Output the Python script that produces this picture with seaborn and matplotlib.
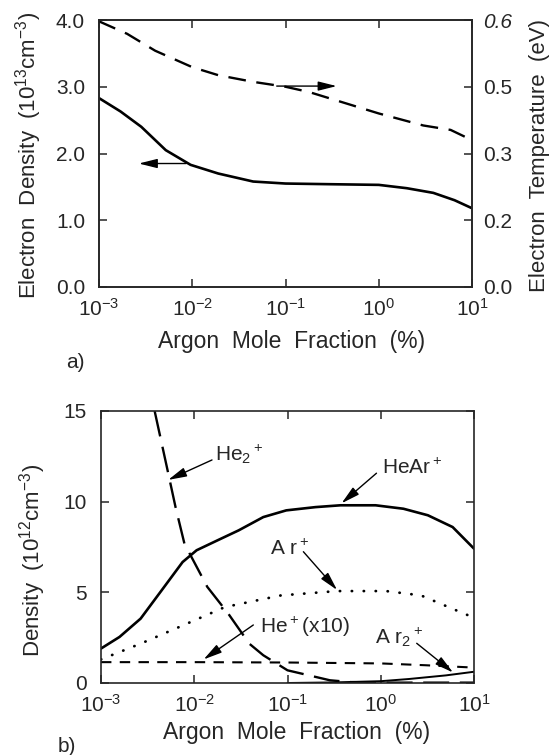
import numpy as np
import pandas as pd
import matplotlib
matplotlib.use("Agg")
import matplotlib.pyplot as plt
import seaborn as sns

# ---- data ----
# a) electron density (1e13 cm-3) and electron temperature (eV)
x_ne = [1e-3, 1.7e-3, 2.84e-3, 5.2e-3, 9.6e-3, 1.9e-2, 4.5e-2, 0.1, 0.3, 1.0, 2.0, 3.85, 6.5, 10]
ne = [2.83, 2.63, 2.40, 2.05, 1.83, 1.70, 1.58, 1.55, 1.54, 1.53, 1.48, 1.41, 1.30, 1.18]

x_te = [1e-3, 2e-3, 4e-3, 1e-2, 1.9e-2, 4.5e-2, 0.1, 0.18, 0.44, 1.0, 3.0, 5.9, 10]
te = [0.597, 0.569, 0.531, 0.494, 0.476, 0.461, 0.45, 0.438, 0.413, 0.39, 0.363, 0.353, 0.33]

# b) ion densities (1e12 cm-3)
x_hear = [1e-3, 1.58e-3, 2.66e-3, 4.47e-3, 7.5e-3, 1.06e-2, 1.78e-2, 3.0e-2, 5.5e-2,
          9.7e-2, 0.2, 0.37, 0.88, 1.75, 3.2, 5.9, 10]
hear = [1.9, 2.54, 3.55, 5.11, 6.67, 7.32, 7.87, 8.42, 9.15, 9.52, 9.70, 9.80, 9.80,
        9.61, 9.25, 8.60, 7.41]

x_arp = [1e-3, 2.66e-3, 6.3e-3, 2.14e-2, 8.5e-2, 0.34, 1.14, 2.7, 6.5, 10]
arp = [1.3, 2.17, 3.0, 4.19, 4.83, 5.07, 5.07, 4.83, 4.0, 3.6]

x_he2 = [3.76e-3, 5.09e-3, 6.3e-3, 7.85e-3, 1.38e-2, 2.32e-2, 3.89e-2, 5.5e-2, 0.1,
         0.285, 0.48, 1.0, 3.0, 10]
he2 = [15.0, 11.9, 9.7, 7.68, 5.3, 3.82, 2.17, 1.53, 0.7, 0.15, 0.05, 0.02, 0.02, 0.02]

x_hep = [1e-3, 1e-2, 0.1, 1.0, 3.0, 10]
hep = [1.15, 1.15, 1.13, 1.08, 0.98, 0.85]

x_ar2 = [0.1, 0.3, 1.0, 2.0, 5.0, 10]
ar2 = [0.0, 0.03, 0.1, 0.22, 0.42, 0.62]

decades = [1e-3, 1e-2, 1e-1, 1e0, 1e1]
decade_labels = ["10$^{-3}$", "10$^{-2}$", "10$^{-1}$", "10$^{0}$", "10$^{1}$"]

sns.set_style("ticks")
plt.rcParams["font.family"] = ["Liberation Sans", "DejaVu Sans"]
plt.rcParams["mathtext.default"] = "regular"
plt.rcParams["axes.linewidth"] = 1.2

W, H = 551, 755
fig = plt.figure(figsize=(W / 100, H / 100), dpi=100)


def px_axes(left, top, right, bottom):
    return fig.add_axes([left / W, 1 - bottom / H, (right - left) / W, (bottom - top) / H])


def style_x(ax):
    ax.set_xscale("log")
    ax.set_xlim(1e-3, 10)
    ax.set_xticks(decades, decade_labels)
    ax.xaxis.set_minor_locator(matplotlib.ticker.NullLocator())
    ax.tick_params(axis="x", which="major", direction="in", length=6, width=1.1,
                   top=True, bottom=True, labelsize=15, pad=8)


arrow = dict(arrowstyle="-|>,head_length=0.8,head_width=0.2", color="black", lw=1.0,
             mutation_scale=14, shrinkA=0, shrinkB=0)

# ---------------- panel a ----------------
ax1 = px_axes(99, 20, 472, 287)
sns.lineplot(x=x_ne, y=ne, ax=ax1, color="black", lw=1.9)
ax2 = ax1.twinx()
sns.lineplot(x=x_te, y=te, ax=ax2, color="black", lw=1.7, dashes=(7.5, 4.5))
style_x(ax1)
ax1.set_ylim(0, 4.0)
ax1.set_yticks([0, 1, 2, 3, 4], ["0.0", "1.0", "2.0", "3.0", "4.0"])
ax1.tick_params(axis="y", direction="in", length=6, width=1.1, labelsize=15, pad=10,
                right=False)
ax2.set_ylim(0, 0.6)
ax2.set_yticks([0, 0.15, 0.3, 0.45, 0.6], ["0.0", "0.2", "0.3", "0.5", "0.6"])
ax2.get_yticklabels()[-1].set_style("italic")
ax2.tick_params(axis="y", direction="in", length=6, width=1.1, labelsize=15, pad=8)
ax1.set_xlabel("")
ax1.set_ylabel("")
ax2.set_ylabel("")

ax1.annotate("", xy=(2.67e-3, 1.85), xytext=(8.6e-3, 1.85), arrowprops=arrow)
ax1.annotate("", xy=(0.354, 3.01), xytext=(0.0805, 3.01), arrowprops=arrow)

fig.text(29 / W, 1 - 155 / H, "Electron  Density  (10$^{13}$cm$^{-3}$)", rotation=90,
         ha="center", va="center", fontsize=16)
fig.text(540 / W, 1 - 156 / H, "Electron  Temperature  (eV)", rotation=90,
         ha="center", va="center", fontsize=16)
fig.text(292 / W, 1 - 342 / H, "Argon  Mole  Fraction  (%)", ha="center", va="center",
         fontsize=16.5)
fig.text(75 / W, 1 - 362 / H, "a)", ha="center", va="center", fontsize=15)

# ---------------- panel b ----------------
ax3 = px_axes(101, 411, 474, 683)
sns.lineplot(x=x_hear, y=hear, ax=ax3, color="black", lw=1.9)
sns.lineplot(x=x_arp, y=arp, ax=ax3, color="black", lw=2.0, dashes=(0.1, 4.2),
             dash_capstyle="round")
sns.lineplot(x=x_he2, y=he2, ax=ax3, color="black", lw=1.7, dashes=(11, 4.5))
sns.lineplot(x=x_hep, y=hep, ax=ax3, color="black", lw=1.5, dashes=(5, 4))
sns.lineplot(x=x_ar2, y=ar2, ax=ax3, color="black", lw=1.4)
style_x(ax3)
ax3.set_ylim(0, 15)
ax3.set_yticks([0, 5, 10, 15], ["0", "5", "10", "15"])
ax3.tick_params(axis="y", direction="in", length=6, width=1.1, labelsize=15, pad=10,
                right=True)
ax3.set_xlabel("")
ax3.set_ylabel("")

ax3.text(0.0167, 12.63, "He$_2$$^+$", fontsize=15, ha="left", va="center")
ax3.annotate("", xy=(5.25e-3, 11.2), xytext=(0.0155, 12.3), arrowprops=arrow)
ax3.text(1.03, 11.86, "HeAr$^+$", fontsize=15, ha="left", va="center")
ax3.annotate("", xy=(0.38, 9.91), xytext=(0.9, 11.57), arrowprops=arrow)
ax3.text(0.0649, 7.39, "A r$^+$", fontsize=15, ha="left", va="center")
ax3.annotate("", xy=(0.34, 5.13), xytext=(0.148, 7.24), arrowprops=arrow)
ax3.text(0.0507, 3.09, "He$^+$(x10)", fontsize=15, ha="left", va="center")
ax3.annotate("", xy=(1.26e-2, 1.3), xytext=(0.043, 3.2), arrowprops=arrow)
ax3.text(0.867, 2.5, "A r$_2$$^+$", fontsize=15, ha="left", va="center")
ax3.annotate("", xy=(5.96, 0.58), xytext=(2.43, 2.19), arrowprops=arrow)

fig.text(33 / W, 1 - 560 / H, "Density  (10$^{12}$cm$^{-3}$)", rotation=90,
         ha="center", va="center", fontsize=16)
fig.text(297 / W, 1 - 733 / H, "Argon  Mole  Fraction  (%)", ha="center", va="center",
         fontsize=16.5)
fig.text(67 / W, 1 - 746 / H, "b)", ha="center", va="center", fontsize=15)

fig.savefig("out.png", dpi=100)
